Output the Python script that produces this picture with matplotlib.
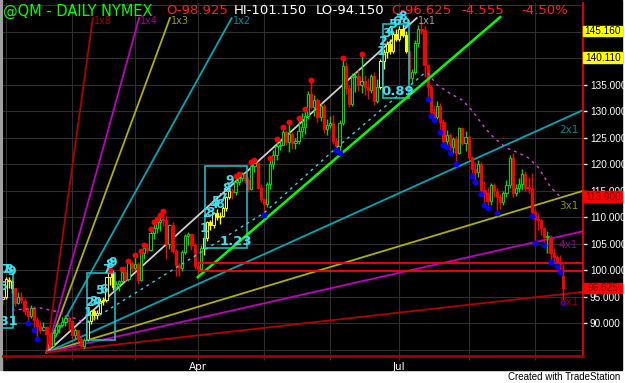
import matplotlib
matplotlib.use("Agg")
import matplotlib.pyplot as plt
import matplotlib.transforms as mtrans
from matplotlib.patches import Rectangle

W, H = 625, 383

# daily bars, Dec 31 2007 .. Sep 15 2008 (bar index 0..178)
opens = [94.5, 95.0, 98.2, 97.9, 96.6, 93.9, 95.0, 94.3, 92.3, 91.4,
         92.9, 90.6, 89.5, 88.8, 89.3, 87.9, 85.7, 88.1, 89.4, 89.7,
         90.3, 91.0, 90.4, 87.7, 88.7, 87.1, 85.8, 86.8, 90.5, 92.3,
         91.5, 92.0, 94.2, 94.4, 98.7, 99.4, 96.9, 97.5, 97.9, 99.6,
         98.3, 101.3, 100.5, 101.2, 98.2, 103.2, 104.2, 103.9, 107.1, 107.9,
         109.1, 109.5, 109.4, 104.9, 108.6, 103.7, 101.0, 100.4, 103.5, 106.4,
         106.8, 104.8, 100.8, 100.3, 104.3, 106.0, 109.1, 108.5, 110.9, 110.1,
         110.3, 111.8, 113.8, 114.9, 114.7, 116.7, 117.5, 118.1, 117.0, 115.4,
         119.6, 120.2, 115.6, 113.5, 112.5, 116.3, 120.0, 121.8, 123.5, 123.7,
         126.0, 124.2, 125.8, 124.1, 124.4, 126.3, 127.1, 129.1, 133.2, 130.8,
         132.2, 128.9, 131.0, 126.6, 127.4, 127.8, 124.3, 123.4, 127.8, 138.5,
         134.4, 131.3, 136.4, 136.7, 134.9, 135.8, 134.6, 134.0, 136.7, 131.9,
         134.6, 139.5, 141.2, 142.7, 141.4, 144.6, 143.6, 145.6, 144.4, 141.4,
         136.2, 137.5, 142.8, 145.5, 145.3, 138.7, 134.6, 129.8, 129.0, 131.0,
         127.9, 124.4, 125.5, 123.3, 124.7, 122.2, 126.8, 124.1, 125.1, 121.4,
         119.2, 118.6, 120.0, 115.2, 114.5, 113.0, 116.0, 115.0, 113.8, 112.9,
         114.5, 116.0, 121.2, 114.6, 115.5, 116.3, 118.2, 115.6, 115.5, 111.0,
         109.7, 109.4, 107.9, 106.2, 106.3, 103.3, 102.6, 101.5, 98.925]
highs = [95.6, 98.8, 98.7, 98.3, 96.7, 95.9, 95.9, 94.7, 92.9, 93.4,
         93.2, 91.2, 90.5, 90.3, 89.4, 88.2, 88.3, 89.9, 89.9, 91.1,
         91.5, 91.3, 90.5, 89.2, 88.8, 87.6, 87.3, 90.7, 92.6, 92.7,
         92.6, 94.7, 95.0, 98.8, 99.7, 100.0, 97.9, 98.2, 99.9, 100.8,
         101.5, 101.8, 102.6, 101.6, 103.3, 104.5, 105.2, 107.4, 108.9, 109.4,
         110.2, 110.9, 110.5, 108.8, 109.2, 104.0, 101.3, 103.8, 106.8, 107.3,
         107.0, 105.2, 101.7, 104.8, 106.4, 109.3, 109.5, 111.0, 111.5, 111.0,
         112.2, 114.0, 115.5, 115.5, 117.4, 117.8, 118.6, 118.4, 117.6, 120.2,
         120.6, 120.3, 116.2, 113.7, 116.6, 120.9, 122.7, 124.5, 124.6, 126.8,
         126.4, 127.7, 126.0, 124.9, 128.5, 129.6, 130.2, 133.8, 135.6, 133.0,
         132.6, 131.6, 131.3, 128.6, 129.2, 129.3, 125.0, 128.4, 139.8, 139.3,
         134.9, 137.2, 137.5, 137.7, 140.6, 136.8, 136.2, 137.1, 137.4, 136.0,
         139.9, 141.8, 143.2, 143.7, 145.0, 145.5, 146.0, 146.5, 145.2, 142.0,
         138.0, 143.5, 146.2, 146.7, 146.0, 139.0, 135.0, 131.0, 132.0, 131.5,
         128.5, 126.4, 125.9, 125.2, 125.4, 127.0, 127.0, 126.2, 125.5, 121.5,
         120.5, 120.9, 120.4, 116.8, 115.7, 116.5, 116.5, 115.5, 114.3, 115.0,
         117.0, 121.8, 122.1, 116.2, 117.5, 119.1, 118.7, 117.6, 118.3, 111.5,
         110.8, 109.7, 108.2, 107.5, 106.7, 104.2, 102.9, 102.9, 101.15]
lows = [93.6, 94.6, 96.7, 95.8, 93.3, 93.6, 93.9, 91.5, 90.4, 91.0,
        89.1, 87.4, 88.2, 88.5, 84.9, 85.3, 85.5, 87.6, 88.2, 89.3,
        89.5, 88.7, 87.1, 87.0, 86.5, 85.5, 85.1, 86.7, 89.9, 90.6,
        90.9, 91.7, 93.5, 94.0, 97.3, 96.2, 96.5, 96.0, 97.6, 97.9,
        98.0, 99.6, 100.1, 97.5, 97.9, 102.2, 103.2, 103.6, 105.9, 107.0,
        107.5, 108.4, 102.2, 104.1, 103.3, 98.9, 99.0, 99.9, 103.0, 104.8,
        103.9, 100.2, 98.7, 100.0, 102.9, 105.6, 107.6, 108.0, 109.4, 108.7,
        110.0, 111.1, 113.5, 113.4, 114.2, 116.0, 116.9, 116.5, 114.8, 115.2,
        118.6, 115.4, 112.8, 110.7, 111.9, 115.4, 119.1, 120.8, 122.7, 123.6,
        123.7, 122.4, 122.8, 122.9, 123.8, 125.1, 125.8, 128.6, 130.5, 129.2,
        127.9, 128.1, 125.9, 125.6, 126.8, 123.8, 123.0, 122.4, 127.5, 133.3,
        130.8, 131.0, 133.7, 133.9, 133.5, 133.0, 132.4, 133.4, 131.2, 131.6,
        134.2, 137.9, 140.0, 140.8, 141.0, 143.2, 143.3, 144.0, 141.0, 135.8,
        135.2, 137.0, 142.2, 144.5, 136.5, 132.6, 129.5, 128.7, 128.5, 126.3,
        124.0, 123.5, 122.5, 122.2, 120.4, 122.0, 123.6, 122.5, 120.9, 118.0,
        117.0, 117.6, 114.6, 112.7, 112.1, 112.4, 113.9, 111.2, 111.5, 112.4,
        113.8, 115.6, 113.8, 114.0, 114.8, 115.2, 115.0, 114.5, 110.6, 105.5,
        107.6, 106.6, 105.0, 103.2, 101.8, 101.5, 101.2, 99.9, 94.15]
closes = [94.9, 98.3, 97.9, 96.6, 93.8, 95.0, 94.4, 92.4, 91.4, 92.9,
          90.6, 89.5, 88.8, 89.3, 87.9, 85.7, 88.1, 89.4, 89.7, 90.3,
          91.0, 90.4, 87.7, 88.7, 87.1, 85.8, 86.8, 90.5, 92.3, 91.5,
          92.0, 94.2, 94.4, 98.7, 99.4, 96.9, 97.5, 97.9, 99.6, 98.3,
          101.3, 100.5, 101.2, 98.2, 103.2, 104.2, 103.9, 107.1, 107.9, 109.1,
          109.5, 109.4, 104.9, 108.6, 103.7, 101.0, 100.4, 103.5, 106.4, 106.8,
          104.8, 100.8, 100.3, 104.3, 106.0, 109.1, 108.5, 110.9, 110.1, 110.3,
          111.8, 113.8, 114.9, 114.7, 116.7, 117.5, 118.1, 117.0, 115.4, 119.6,
          120.2, 115.6, 113.5, 112.5, 116.3, 120.0, 121.8, 123.5, 123.7, 126.0,
          124.2, 125.8, 124.1, 124.4, 126.3, 127.1, 129.1, 133.2, 130.8, 132.2,
          128.9, 131.0, 126.6, 127.4, 127.8, 124.3, 123.4, 127.8, 138.5, 134.4,
          131.3, 136.4, 136.7, 134.9, 135.8, 134.6, 134.0, 136.7, 131.9, 134.6,
          139.5, 141.2, 142.7, 141.4, 144.6, 143.6, 145.6, 144.4, 141.4, 136.2,
          137.5, 142.8, 145.5, 145.3, 138.7, 134.6, 129.8, 129.0, 131.0, 127.9,
          124.4, 125.5, 123.3, 124.7, 122.2, 126.8, 124.1, 125.1, 121.4, 119.2,
          118.6, 120.0, 115.2, 114.5, 113.0, 116.0, 115.0, 113.8, 112.9, 114.5,
          116.0, 121.2, 114.6, 115.5, 116.3, 118.2, 115.6, 115.5, 111.0, 109.7,
          109.4, 107.9, 106.2, 106.3, 103.3, 102.6, 101.5, 101.18, 96.625]

# first trading bar of each month, axis labels
month_bars = [1, 22, 42, 62, 83, 104, 126, 148, 169]
month_names = ["", "", "", "Apr", "", "", "Jul", "", ""]

# price scale labels (140/145 sit under the marker boxes)
price_ticks = [90, 95, 100, 105, 110, 115, 120, 125, 130, 135]

# setup counts (bar of count 1) and their boxes
setup_first = [-5, 27, 64, 120]
box_left = [-1.0, 26.8, 64.3, 120.8]
box_right = [3.3, 35.8, 77.6, 129.1]
box_top = [99.6, 99.5, 119.7, 146.5]
box_bottom = [89.1, 86.9, 104.2, 132.5]
box_text = ["0.81", "", "1.23", "0.89"]

red_dots = [34, 38, 40, 42, 44, 45, 47, 48, 49, 50, 51, 74, 75, 79, 80,
            85, 87, 89, 91, 94, 96, 98, 108, 114]
blue_dots = [8, 10, 11, 83, 106, 107, 135, 136, 137, 139, 140, 141, 142, 144,
             149, 150, 152, 153, 154, 157, 168, 169, 172, 174, 176, 177, 178]

# gann fan from the january low
fan_bar, fan_price, fan_unit, fan_top = 14, 84.5, 0.537, 147.6
fan_names = ["1x8", "1x4", "1x3", "1x2", "1x1", "2x1", "3x1", "4x1", "8x1"]
fan_mult = [8, 4, 3, 2, 1, 1/2, 1/3, 1/4, 1/8]
fan_colors = ["#b00000", "#c000c0", "#b0b000", "#00a8b8", "#d0d0d0",
              "#00a8b8", "#b0b000", "#c000c0", "#b00000"]
fan_text_colors = ["#a00000", "#a000a0", "#a0a000", "#0090a0", "#a0a0a0",
                   "#008890", "#909000", "#900090", "#900000"]

trend_bars = [62, 107]
trend_prices = [98.7, 121.7]
trend_end = 158

levels = [101.4, 99.9]
level_start = 62

support_bars = [27, 83, 106, 134]
support_vals = [90.1, 110.8, 123.1, 137.2]
resist_left_bars = [3, 12, 18, 26]
resist_left_vals = [92.5, 92.9, 92.1, 90.2]
resist_bars = [135, 138, 142, 146, 149, 153, 156, 160, 164, 167, 170, 172, 174, 177]
resist_vals = [137.2, 135.0, 133.4, 132.1, 130.2, 127.0, 125.0, 123.1, 122.1,
               121.2, 119.5, 117.6, 115.7, 113.9]

axis_marks = [145.16, 140.11, 113.9, 96.625]
axis_mark_bg = ["#ffff00", "#ffff00", "#ff0000", "#ff0000"]
axis_mark_fg = ["#000000", "#000000", "#7a0000", "#7a0000"]

header = [("@QM - DAILY NYMEX", "#00ff00", 3, 10.5), ("O-98.925", "#ff2020", 166, 9.5),
          ("HI-101.150", "#ffffff", 234, 9.5), ("LO-94.150", "#ffffff", 316, 9.5),
          ("C-96.625", "#ff2020", 391, 9.5), ("-4.555", "#ff2020", 461, 9.5),
          ("-4.50%", "#ff2020", 521, 9.5)]

n = len(closes)
xs = list(range(n))
x_left, x_right = 0.16, 184.3
y_low, y_high = 83.83, 150.43

fig = plt.figure(figsize=(W / 100, H / 100), dpi=100, facecolor="white")
fig.patches.append(Rectangle((3 / W, 1 - 370 / H), 619 / W, 370 / H,
                             transform=fig.transFigure, color="black", zorder=-10))
fig.patches.append(Rectangle((0, 1 - 370 / H), 2 / W, 370 / H,
                             transform=fig.transFigure, color="#a0a0a0", zorder=-10))

ax = fig.add_axes([3 / W, 1 - 356 / H, 580 / W, 353 / H])
ax.set_zorder(1)
ax.set_facecolor("black")
ax.set_xlim(x_left, x_right)
ax.set_ylim(y_low, y_high)

# grid
for p in range(85, 151, 5):
    ax.axhline(p, color="#2e2e2e", lw=0.8, zorder=0)
for b in month_bars:
    ax.axvline(b, color="#2e2e2e", lw=0.8, zorder=0)

# yellow setup bars
yellow = set()
for s in setup_first:
    for k in range(9):
        if 0 <= s + k < n:
            yellow.add(s + k)

# candles
for i in xs:
    up = closes[i] >= opens[i]
    col = "#ffff00" if i in yellow else ("#00e000" if up else "#ff0000")
    ax.vlines(i, lows[i], highs[i], color=col, lw=1, zorder=3)
    lo, hi = min(opens[i], closes[i]), max(opens[i], closes[i])
    if hi - lo < 0.2:
        hi = lo + 0.2
    face = "black" if up else col
    ax.bar(i, hi - lo, bottom=lo, width=0.7, color=face, edgecolor=col,
           lw=0.7, zorder=4)

ax.plot(red_dots, [highs[i] + 0.3 for i in red_dots], "o", color="#ff0000",
        ms=4.2, mec="none", zorder=6)
ax.plot(blue_dots, [lows[i] - 0.3 for i in blue_dots], "o", color="#0000ff",
        ms=4.2, mec="none", zorder=6)

# setup numbers and boxes
for s in setup_first:
    for k in range(9):
        i = s + k
        if 0 <= i < n:
            ax.text(i, highs[i] + 1.4, str(k + 1), color="#40e0f0", fontsize=9,
                    ha="center", va="center", fontweight="bold", zorder=7,
                    clip_on=True)
for l, r, t, b, txt in zip(box_left, box_right, box_top, box_bottom, box_text):
    ax.add_patch(Rectangle((l, b), r - l, t - b, fill=False, ec="#20b8c0",
                           lw=1.2, zorder=5))
    if txt:
        ax.text(r + 1.6, b + 1.3, txt, color="#40e0f0", fontsize=9.5,
                ha="right", va="center", fontweight="bold", zorder=7,
                clip_on=True)

# gann fan
for name, m, c, tc in zip(fan_names, fan_mult, fan_colors, fan_text_colors):
    slope = m * fan_unit
    x1 = min(fan_bar + (fan_top - fan_price) / slope, x_right)
    y1 = fan_price + slope * (x1 - fan_bar)
    ax.plot([fan_bar, x1], [fan_price, y1], color=c, lw=1.3, zorder=2)
    if m >= 1:
        ax.text(x1 + 0.3, y1 - 0.6, name, color=tc, fontsize=7,
                ha="left", va="center", zorder=7)
    else:
        ax.text(182.8, fan_price + slope * (176 - fan_bar) - 0.5, name, color=tc,
                fontsize=7.5, ha="right", va="top", zorder=7)

# trend line, levels, dashed stops
slope = (trend_prices[1] - trend_prices[0]) / (trend_bars[1] - trend_bars[0])
ax.plot([trend_bars[0], trend_end],
        [trend_prices[0], trend_prices[0] + slope * (trend_end - trend_bars[0])],
        color="#00ff00", lw=1.8, zorder=5)
ax.hlines(levels, level_start, x_right, colors="#ff0000", lw=1.3, zorder=5)
ax.plot(support_bars, support_vals, color="#40d0e0", lw=1, dashes=(2, 3), zorder=5)
ax.plot(resist_left_bars, resist_left_vals, color="#e040e0", lw=1, dashes=(2, 3), zorder=5)
ax.plot(resist_bars, resist_vals, color="#e040e0", lw=1, dashes=(2, 3), zorder=5)

# axes styling
for sp in ["left", "top"]:
    ax.spines[sp].set_visible(False)
ax.spines["bottom"].set_color("#a00000")
ax.spines["bottom"].set_linewidth(2)
ax.spines["right"].set_color("#ff0000")
ax.spines["right"].set_linewidth(1.2)
ax.set_xticks(month_bars)
ax.set_xticklabels(month_names)
ax.tick_params(axis="x", colors="#a00000", length=3, width=1, pad=1,
               labelcolor="white", labelsize=7.5)
ax.yaxis.tick_right()
ax.set_yticks(price_ticks)
ax.set_yticklabels([f"{v:.3f}" for v in price_ticks], family="Liberation Sans")
ax.tick_params(axis="y", colors="white", length=3, width=1, pad=2,
               labelsize=7.2)

tr = mtrans.blended_transform_factory(fig.transFigure, ax.transData)
for v, bg, fg in zip(axis_marks, axis_mark_bg, axis_mark_fg):
    fig.patches.append(Rectangle((583 / W, v - 1.0), 39 / W, 2.0, transform=tr,
                                 color=bg, zorder=5))
    fig.text(603 / W, v, f"{v:.3f}", transform=tr, color=fg, fontsize=7.2,
             ha="center", va="center", family="Liberation Sans", zorder=6)

for txt, col, px, fs in header:
    fig.text(px / W, 1 - 11 / H, txt, color=col, fontsize=fs,
             ha="left", va="center", zorder=8)

fig.text(620 / W, 1 - 377 / H, "Created with TradeStation", color="black",
         fontsize=7, ha="right", va="center", family="Liberation Sans")

fig.savefig("out.png", dpi=100, facecolor="white")
